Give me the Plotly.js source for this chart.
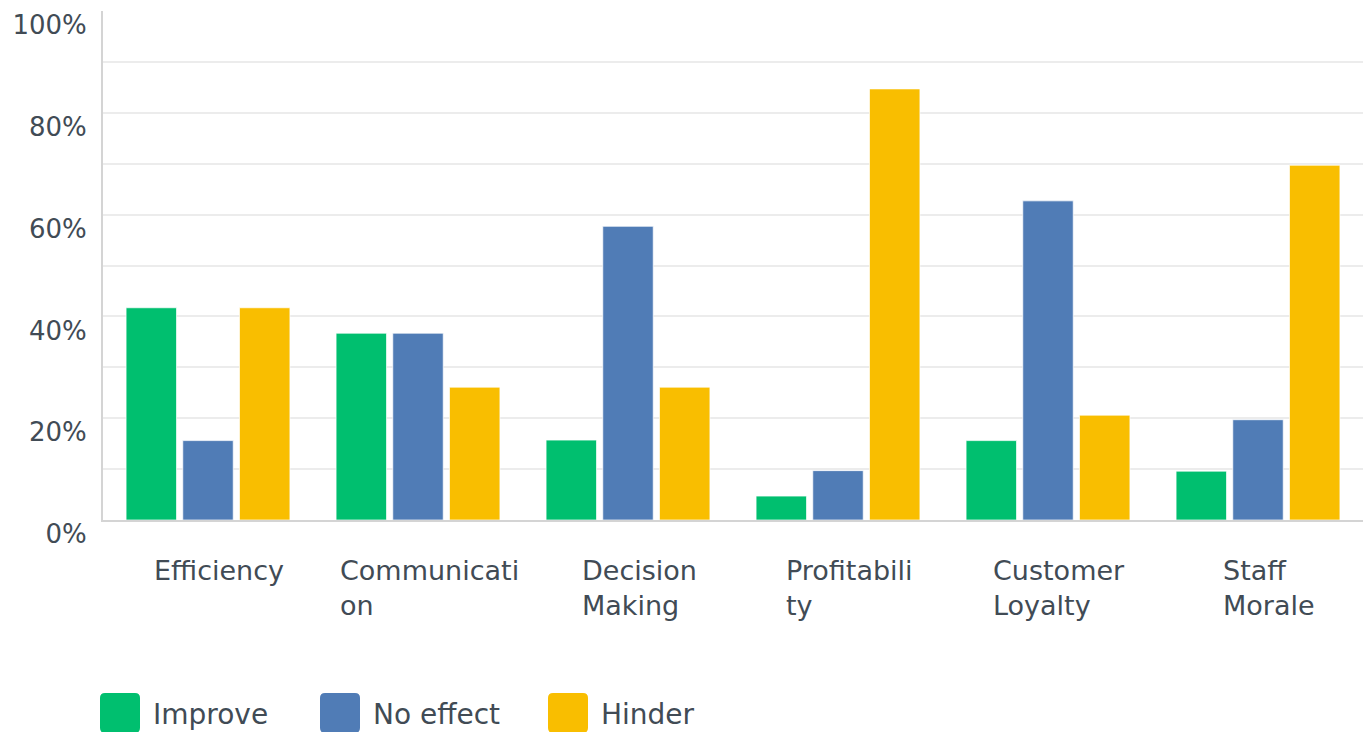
<!DOCTYPE html>
<html>
<head>
<meta charset="utf-8">
<script src="https://cdn.plot.ly/plotly-3.0.1.min.js"></script>
<style>html,body{margin:0;padding:0;background:#fff;}#chart{width:1363px;height:732px;}</style>
</head>
<body>
<div id="chart"></div>
<script>
// ---- data ----
var categories = ["Efficiency", "Communication", "Decision Making", "Profitability", "Customer Loyalty", "Staff Morale"];
var categoryLabels = ["Efficiency", "Communicati<br>on", "Decision<br>Making", "Profitabili<br>ty", "Customer<br>Loyalty", "Staff<br>Morale"];
var seriesNames = ["Improve", "No effect", "Hinder"];
var improve  = [41.7, 36.7, 15.7, 4.7, 15.6, 9.6];
var noEffect = [15.6, 36.7, 57.7, 9.7, 62.7, 19.7];
var hinder   = [41.7, 26.1, 26.1, 84.7, 20.6, 69.7];
var seriesValues = [improve, noEffect, hinder];
var colors = ["#00bf6f", "#507cb6", "#f9be00"];

var FONT = "DejaVu Sans";
var TEXT = "#414b55";

var traces = seriesNames.map(function (name, i) {
  return {
    type: "bar",
    name: name,
    x: categories,
    y: seriesValues[i],
    marker: {color: colors[i], line: {color: "rgba(255,255,255,0.7)", width: 1}},
    showlegend: false,
    hovertemplate: "%{x}<br>" + name + ": %{y}%<extra></extra>"
  };
});

// category labels (left-aligned multi-line, like the source)
var annotations = categories.map(function (c, i) {
  return {
    x: c, xref: "x", y: 0, yref: "paper",
    xanchor: "center", yanchor: "top", align: "left",
    xshift: 11, yshift: -33,
    text: categoryLabels[i], showarrow: false,
    font: {family: FONT, size: 27, color: TEXT}
  };
});

// custom legend with large rounded swatches
function roundRect(x, y, w, h, r) {
  return "M" + (x + r) + "," + y + " L" + (x + w - r) + "," + y +
    " Q" + (x + w) + "," + y + " " + (x + w) + "," + (y - r) +
    " L" + (x + w) + "," + (y - h + r) +
    " Q" + (x + w) + "," + (y - h) + " " + (x + w - r) + "," + (y - h) +
    " L" + (x + r) + "," + (y - h) +
    " Q" + x + "," + (y - h) + " " + x + "," + (y - h + r) +
    " L" + x + "," + (y - r) +
    " Q" + x + "," + y + " " + (x + r) + "," + y + " Z";
}
var legendLeft = [-3, 217, 445];
var shapes = [];
seriesNames.forEach(function (name, i) {
  shapes.push({
    type: "path", xref: "paper", yref: "paper",
    xsizemode: "pixel", ysizemode: "pixel", xanchor: 0, yanchor: 0,
    path: roundRect(legendLeft[i], -173, 40, 40, 5),
    fillcolor: colors[i], line: {width: 0}
  });
  annotations.push({
    x: 0, xref: "paper", y: 0, yref: "paper",
    xanchor: "left", yanchor: "middle",
    xshift: legendLeft[i] + 51, yshift: -194,
    text: name, showarrow: false,
    font: {family: FONT, size: 28, color: TEXT}
  });
});

var layout = {
  width: 1363, height: 732,
  margin: {l: 103, r: 0, t: 11, b: 212, pad: 0},
  paper_bgcolor: "#fff", plot_bgcolor: "#fff",
  font: {family: FONT, color: TEXT},
  barmode: "group", bargap: 0.19, bargroupgap: 0.11,
  xaxis: {
    type: "category", showticklabels: false, ticks: "",
    showline: true, linecolor: "#d4d4d4", linewidth: 2,
    showgrid: false, zeroline: false, fixedrange: true
  },
  yaxis: {
    range: [0, 100], dtick: 20, tick0: 0, ticksuffix: "%",
    showgrid: true, gridcolor: "#ececec", gridwidth: 2,
    minor: {dtick: 10, showgrid: true, gridcolor: "#ececec", gridwidth: 2},
    showline: true, linecolor: "#d4d4d4", linewidth: 2,
    zeroline: false, ticks: "",
    ticklabelstandoff: 9, ticklabelshift: 14,
    tickfont: {family: FONT, size: 26, color: TEXT},
    fixedrange: true
  },
  annotations: annotations,
  shapes: shapes,
  showlegend: false
};

Plotly.newPlot("chart", traces, layout, {displayModeBar: false, staticPlot: true});
</script>
</body>
</html>
